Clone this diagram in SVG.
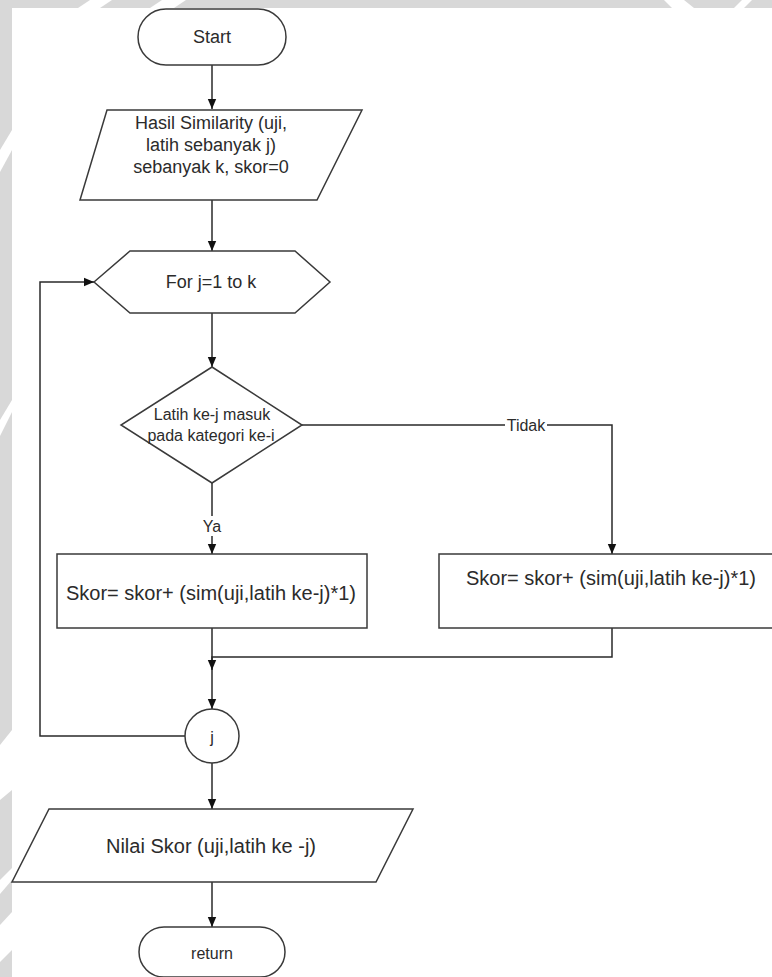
<svg xmlns="http://www.w3.org/2000/svg" width="772" height="977" viewBox="0 0 772 977">
  <defs>
    <marker id="arrow" markerUnits="userSpaceOnUse" markerWidth="10" markerHeight="10" viewBox="0 0 10 10" refX="10" refY="5" orient="auto">
      <path d="M0,0.8 L10,5 L0,9.2 Z" fill="#111"/>
    </marker>
  </defs>
  <style>
    .shape { fill: #ffffff; stroke: #3a3a3a; stroke-width: 1.5; }
    .conn { fill: none; stroke: #2a2a2a; stroke-width: 1.5; }
    .lbl { font-family: "Liberation Sans", Arial, sans-serif; fill: #2b2b2b; text-anchor: middle; dominant-baseline: central; }
    .s16 { font-size: 16px; }
    .s18 { font-size: 18px; }
    .s20 { font-size: 20px; }
    .band { fill: #d8d8d8; }
    .cut { fill: #ffffff; }
  </style>

  <rect width="772" height="977" fill="#ffffff"/>

  <!-- page border band -->
  <g id="border">
    <rect class="band" x="0" y="0" width="772" height="8"/>
    <rect class="band" x="0" y="0" width="12" height="977"/>
    <polygon class="cut" points="78,8 90,0 112,0 100,8"/>
    <polygon class="cut" points="150,8 162,0 186,0 174,8"/>
    <polygon class="cut" points="672,8 664,0 684,0 694,8"/>
    <polygon class="cut" points="734,8 742,0 752,0 744,8"/>
    <polygon class="cut" points="0,150 12,130 12,150 0,172"/>
    <polygon class="cut" points="0,420 12,400 12,412 0,436"/>
    <polygon class="cut" points="0,745 12,730 12,790 0,800"/>
    <polygon class="cut" points="0,880 12,868 12,880 0,894"/>
    <polygon class="cut" points="0,925 12,912 12,950 0,962"/>
  </g>

  <!-- connectors -->
  <g id="connectors">
    <path class="conn" d="M212,65 V109" marker-end="url(#arrow)"/>
    <path class="conn" d="M212,200 V251" marker-end="url(#arrow)"/>
    <path class="conn" d="M212,313 V367" marker-end="url(#arrow)"/>
    <path class="conn" d="M212,483 V554" marker-end="url(#arrow)"/>
    <path class="conn" d="M302,425 H612 V554" marker-end="url(#arrow)"/>
    <path class="conn" d="M212,628 V709" marker-end="url(#arrow)"/>
    <path class="conn" d="M612,628 V657 H212 V670" marker-end="url(#arrow)"/>
    <path class="conn" d="M185,736 H40 V282 H94" marker-end="url(#arrow)"/>
    <path class="conn" d="M212,763 V809" marker-end="url(#arrow)"/>
    <path class="conn" d="M212,882 V927" marker-end="url(#arrow)"/>
    <!-- branch labels -->
    <rect x="505" y="416" width="42" height="18" fill="#ffffff"/>
    <text class="lbl s16" x="526" y="425">Tidak</text>
    <rect x="199" y="516" width="26" height="20" fill="#ffffff"/>
    <text class="lbl s16" x="212" y="526">Ya</text>
  </g>

  <g id="start">
    <rect class="shape" x="138" y="9" width="148" height="56" rx="28" ry="28"/>
    <text class="lbl s18" x="212" y="37">Start</text>
  </g>

  <g id="input">
    <polygon class="shape" points="107,110 362,110 317,200 80,200"/>
    <text class="lbl s18" x="211" y="123">Hasil Similarity (uji,</text>
    <text class="lbl s18" x="211" y="145">latih sebanyak j)</text>
    <text class="lbl s18" x="211" y="167">sebanyak k, skor=0</text>
  </g>

  <g id="loop">
    <polygon class="shape" points="94,282 130,251 295,251 330,282 295,313 130,313"/>
    <text class="lbl s18" x="211" y="282">For j=1 to k</text>
  </g>

  <g id="decision">
    <polygon class="shape" points="212,367 302,425 212,483 121,425"/>
    <text class="lbl s16" x="212" y="414">Latih ke-j masuk</text>
    <text class="lbl s16" x="211" y="435">pada kategori ke-i</text>
  </g>

  <g id="score-yes">
    <rect class="shape" x="57" y="554" width="310" height="74"/>
    <text class="lbl s20" x="211" y="593">Skor= skor+ (sim(uji,latih ke-j)*1)</text>
  </g>

  <g id="score-no">
    <rect class="shape" x="439" y="554" width="346" height="74"/>
    <text class="lbl s20" x="611" y="578">Skor= skor+ (sim(uji,latih ke-j)*1)</text>
  </g>

  <g id="next-j">
    <circle class="shape" cx="212" cy="736" r="27"/>
    <text class="lbl s16" x="212" y="737">j</text>
  </g>

  <g id="output">
    <polygon class="shape" points="49,809 413,809 376,882 12,882"/>
    <text class="lbl s20" x="211" y="846">Nilai Skor (uji,latih ke -j)</text>
  </g>

  <g id="end">
    <rect class="shape" x="139" y="927" width="146" height="50" rx="25" ry="25"/>
    <text class="lbl s16" x="212" y="953">return</text>
  </g>
</svg>
